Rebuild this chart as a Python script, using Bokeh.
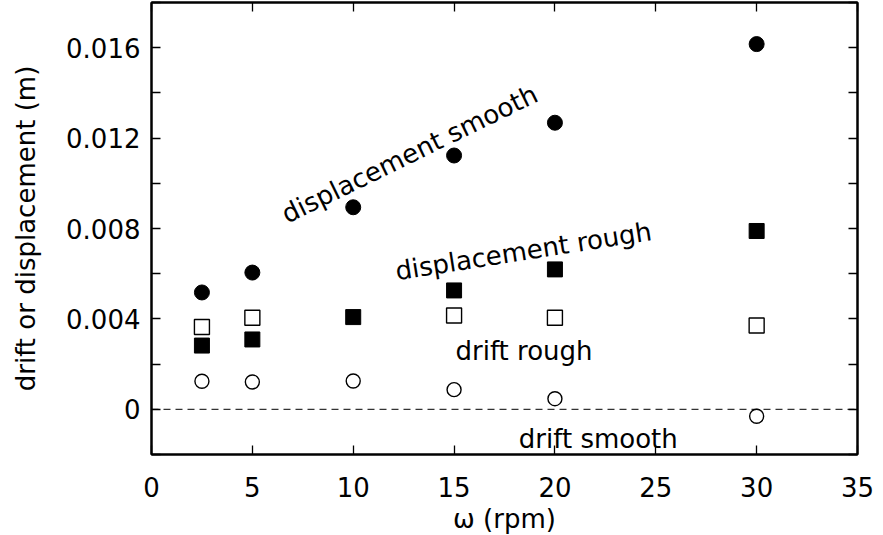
from bokeh.plotting import figure
from bokeh.models import (Range1d, LinearAxis, FixedTicker, Span, CustomJSTickFormatter, Label,
                          CustomLabelingPolicy)
from bokeh.embed import file_html
from bokeh.resources import INLINE

# data
omega = [2.5, 5, 10, 15, 20, 30]
disp_smooth = [0.00517, 0.00605, 0.00894, 0.01123, 0.01268, 0.01616]
disp_rough = [0.00282, 0.00309, 0.00408, 0.00526, 0.00619, 0.00789]
omega_drift_rough = [2.5, 5, 15, 20, 30]
drift_rough = [0.00364, 0.00405, 0.00415, 0.00405, 0.00371]
drift_smooth = [0.00124, 0.00121, 0.00125, 0.00087, 0.00047, -0.00031]

x_ticks = [0, 5, 10, 15, 20, 25, 30, 35]
y_ticks = [0, 0.004, 0.008, 0.012, 0.016]
y_minor = [-0.002, 0.002, 0.006, 0.010, 0.014, 0.018]

# annotation texts: (text, x, y, angle in degrees)
annotations = [
    ("displacement smooth", 6.54, 0.00857, 26),
    ("displacement rough", 12.1, 0.0061, 9),
    ("drift rough", 15.07, 0.00258, 0),
    ("drift smooth", 18.21, -0.0013, 0),
]

FONT = "DejaVu Sans"
FS = "26px"

p = figure(frame_width=706, frame_height=452, output_backend="svg", toolbar_location=None,
           x_range=Range1d(0, 35), y_range=Range1d(-0.002, 0.018),
           min_border_left=151, min_border_right=24, min_border_top=2, min_border_bottom=78,
           x_axis_label="ω (rpm)", y_axis_label="drift or displacement (m)")
p.grid.visible = False
p.outline_line_color = "black"
p.outline_line_width = 2
p.background_fill_color = "white"
p.border_fill_color = "white"

yfmt = CustomJSTickFormatter(code="return Math.abs(tick) < 1e-9 ? '0' : tick.toFixed(3);")
no_labels = CustomLabelingPolicy(code="return new Set()")

def style_axis(ax, fs=FS):
    ax.axis_line_width = 2
    ax.axis_line_color = "black"
    ax.major_tick_in = 9
    ax.major_tick_out = 0
    ax.minor_tick_in = 9
    ax.minor_tick_out = 0
    ax.major_tick_line_width = 1.3
    ax.minor_tick_line_width = 1.3
    ax.major_tick_line_color = "black"
    ax.minor_tick_line_color = "black"
    ax.major_label_text_font = FONT
    ax.major_label_text_font_size = fs
    ax.major_label_text_color = "black"
    ax.axis_label_text_font = FONT
    ax.axis_label_text_font_size = FS
    ax.axis_label_text_font_style = "normal"
    ax.axis_label_text_color = "black"

xa = p.xaxis[0]
xa.ticker = FixedTicker(ticks=x_ticks)
style_axis(xa)
xa.major_label_standoff = 22
xa.axis_label_standoff = 4

ya = p.yaxis[0]
ya.ticker = FixedTicker(ticks=y_ticks, minor_ticks=y_minor)
ya.formatter = yfmt
style_axis(ya)
ya.major_label_standoff = 11
ya.axis_label_standoff = 22

top = LinearAxis(ticker=FixedTicker(ticks=x_ticks), major_label_policy=no_labels)
style_axis(top, fs="0px")
top.major_label_standoff = 0
p.add_layout(top, "above")

right = LinearAxis(ticker=FixedTicker(ticks=y_ticks, minor_ticks=y_minor), major_label_policy=no_labels)
style_axis(right, fs="0px")
right.major_label_standoff = 0
p.add_layout(right, "right")

p.add_layout(Span(location=0, dimension="width", line_color="black", line_width=1, line_dash="7 5"))

p.scatter(omega, disp_smooth, marker="circle", size=15, fill_color="black", line_color="black")
p.scatter(omega, disp_rough, marker="square", size=15, fill_color="black", line_color="black")
p.scatter(omega_drift_rough, drift_rough, marker="square", size=15, fill_color="white",
          line_color="black", line_width=1.4)
p.scatter(omega, drift_smooth, marker="circle", size=14, fill_color="white",
          line_color="black", line_width=1.4)

for txt, x, y, ang in annotations:
    p.add_layout(Label(x=x, y=y, text=txt, angle=ang, angle_units="deg",
                       text_font=FONT, text_font_size=FS, text_color="black",
                       text_align="left", text_baseline="alphabetic"))

open("out.html", "w").write(file_html(p, INLINE))
